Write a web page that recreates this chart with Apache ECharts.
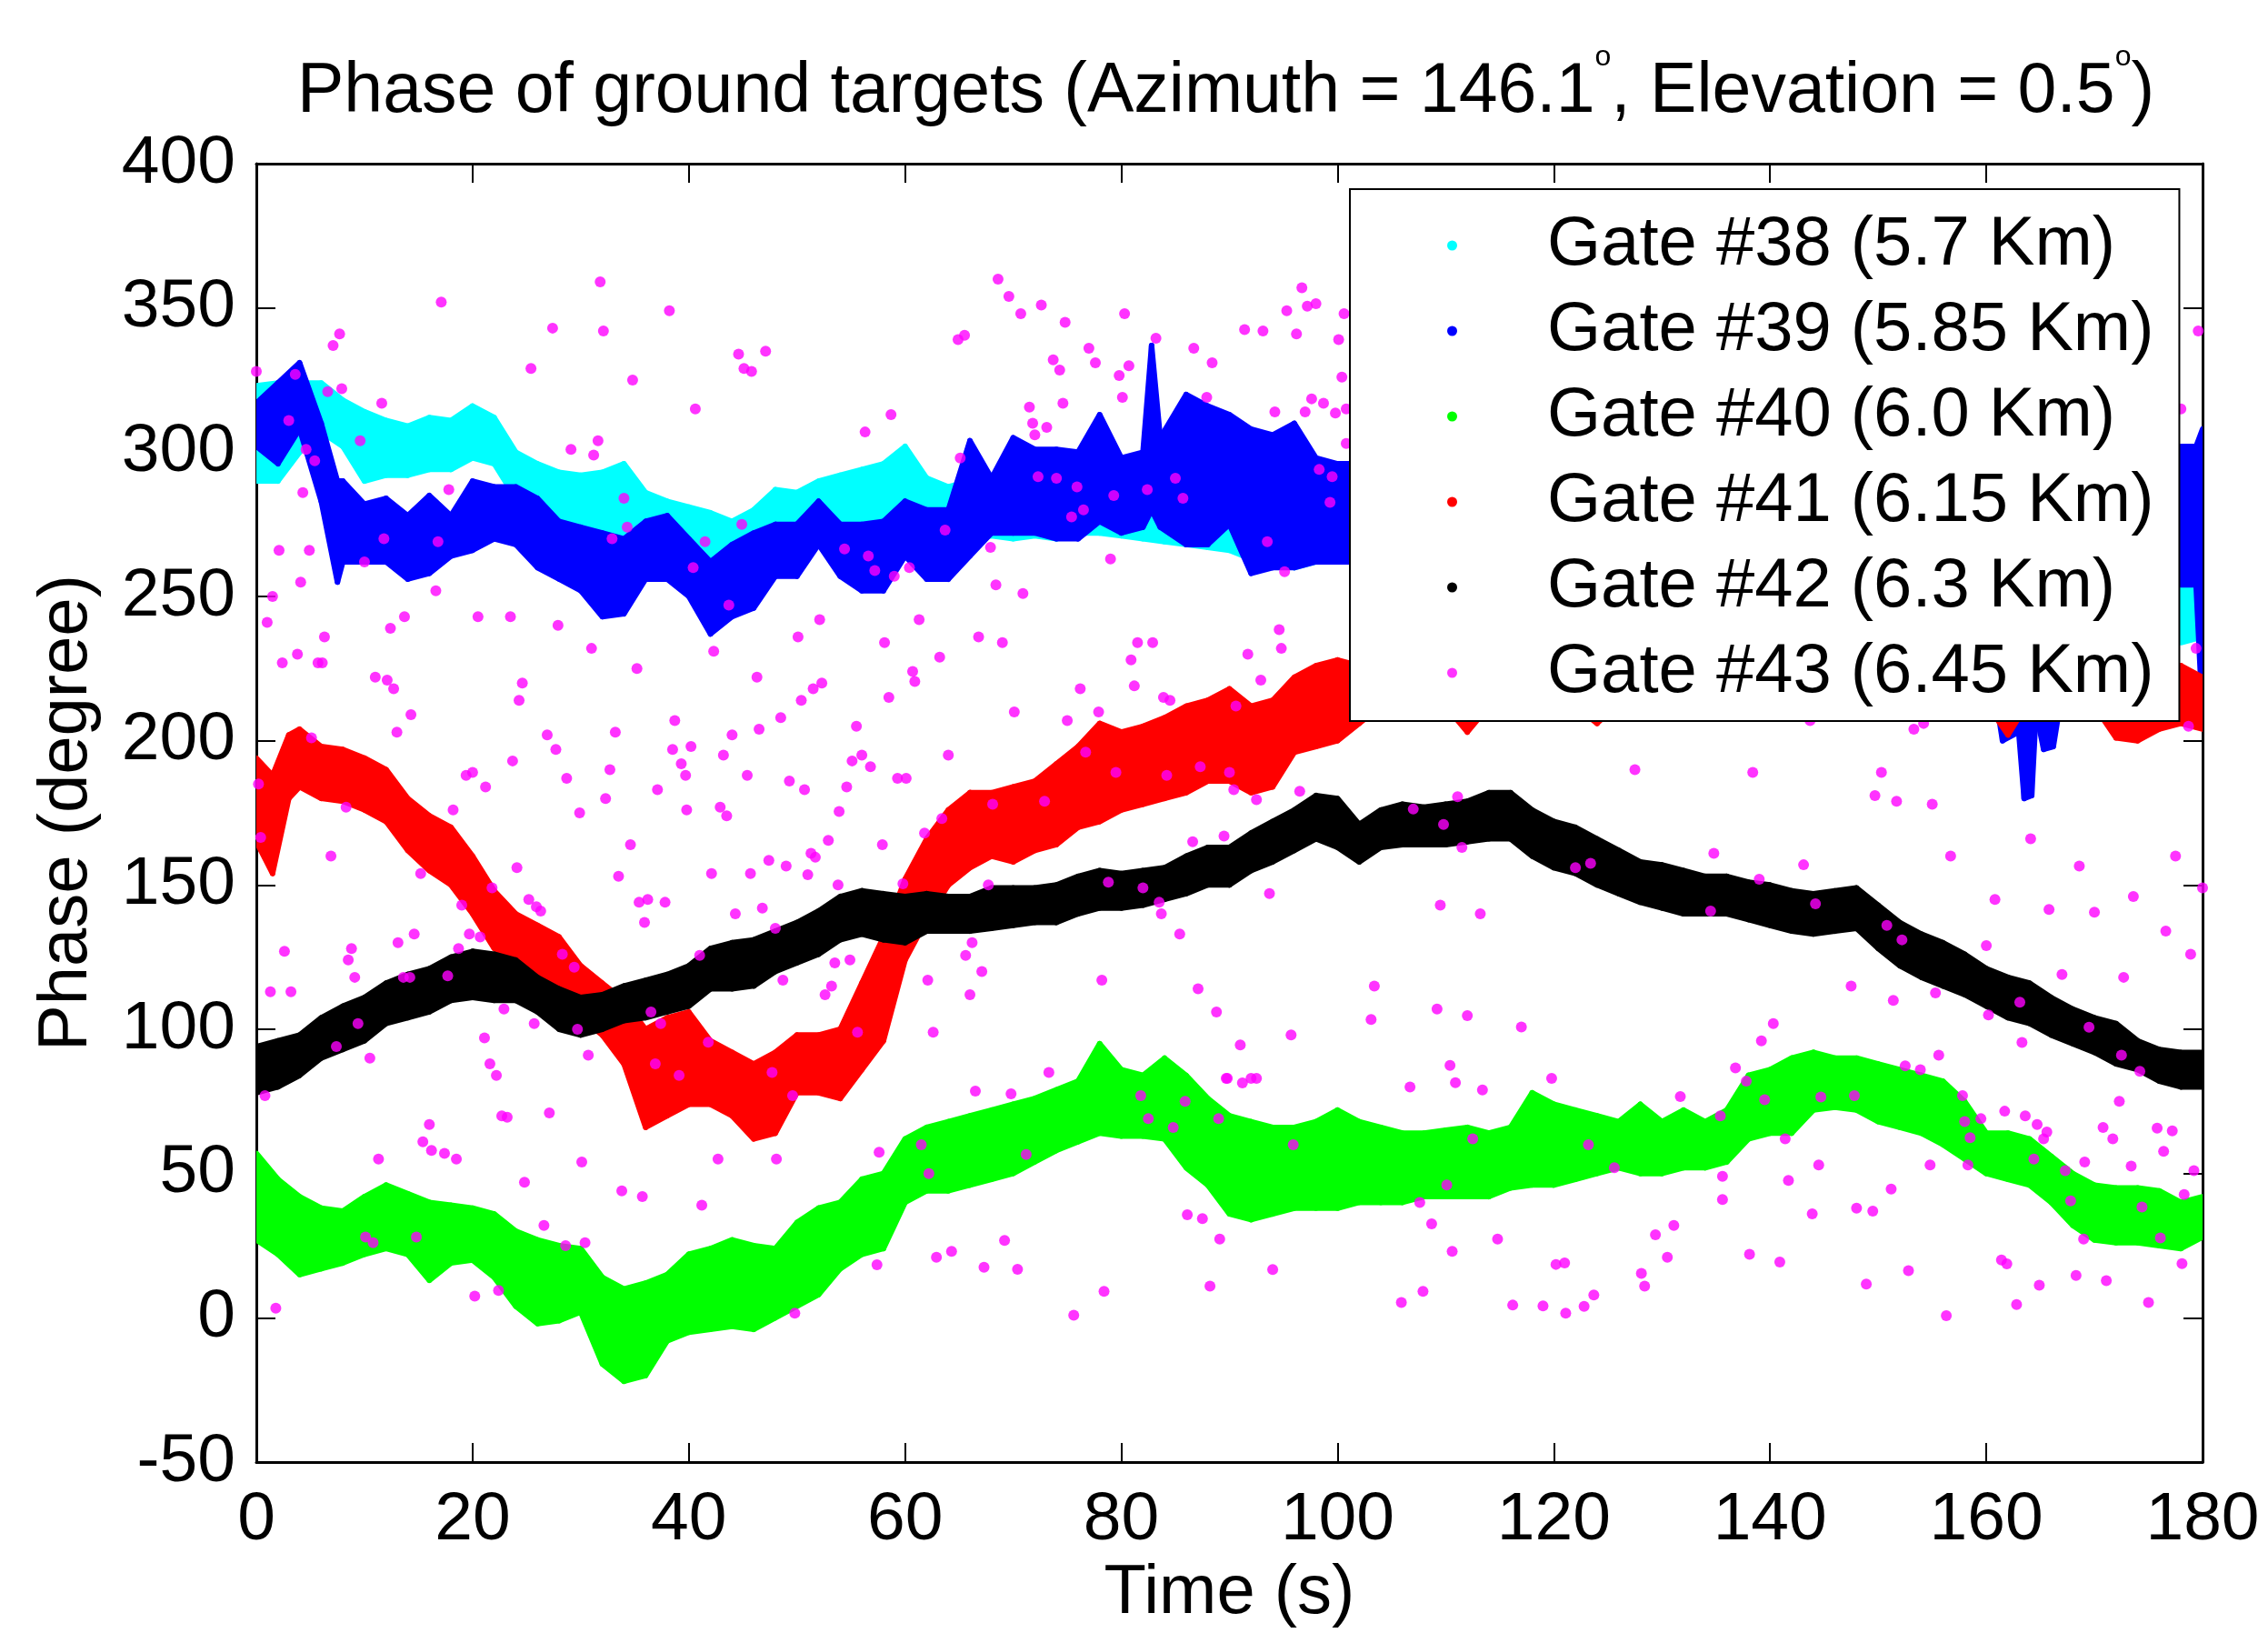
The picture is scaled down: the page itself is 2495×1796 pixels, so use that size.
<!DOCTYPE html>
<html>
<head>
<meta charset="utf-8">
<script src="https://cdn.jsdelivr.net/npm/echarts@6/dist/echarts.min.js"></script>
<style>html,body{margin:0;padding:0;background:#fff}#c{width:2495px;height:1796px}</style>
</head>
<body>
<div id="c"></div>
<script>
const FONT = '"Liberation Sans", Arial, Helvetica, sans-serif';

const gateNames = ['Gate #38 (5.7 Km)', 'Gate #39 (5.85 Km)', 'Gate #40 (6.0 Km)', 'Gate #41 (6.15 Km)', 'Gate #42 (6.3 Km)', 'Gate #43 (6.45 Km)'];
const gateColors = ['#00FFFF', '#0000FF', '#00FF00', '#FF0000', '#000000', '#FF00FF'];
const xTicks = [0, 20, 40, 60, 80, 100, 120, 140, 160, 180];
const yTicks = [-50, 0, 50, 100, 150, 200, 250, 300, 350, 400];

// Gate #38 (cyan) band: time, lower edge, upper edge (null = hidden behind legend)
const g38_t  = [0,2,4,6,8,10,12,14,16,18,20,22,24,26,28,30,32,34,36,38,40,42,44,46,48,50,52,54,56,58,60,62,64,66,68,70,72,74,76,78,80,82,84,86,88,90,92,94,96,98,100,102,140,178,180];
const g38_lo = [290,290,300,307,302,290,292,292,294,294,298,296,284,281,276,273,272,272,272,268,264,260,258,262,264,264,268,270,270,271,272,273,272,270,271,270,271,270,272,272,271,270,269,268,267,266,263,261,260,262,262,262,null,234,236];
const g38_hi = [323,324,324,324,318,314,311,309,312,311,316,312,300,296,293,292,293,296,286,283,281,279,276,280,287,286,290,292,294,296,302,291,288,290,292,292,292,292,294,298,296,292,292,292,292,290,290,288,286,286,285,285,null,256,256];

// Gate #39 (blue)
const g39_t  = [0,2,4,6,7.5,8,10,12,14,16,18,20,22,24,26,28,30,32,34,36,38,40,42,44,46,48,50,52,54,56,58,60,62,64,66,68,70,72,74,76,78,80,82,82.8,83.6,86,88,90,92,94,96,98,100,102,130,161,161.5,163,163.5,164.2,164.6,165.3,166.2,166.8,172,178,179.4,180];
const g39_lo = [302,296,308,283,255,262,262,262,256,258,264,266,270,268,260,256,252,243,244,256,256,250,237,243,246,257,257,268,257,252,252,264,256,256,264,272,272,272,270,270,276,272,274,280,274,268,268,275,258,260,260,262,262,262,null,212,200,203,180,181,210,197,198,212,null,254,254,208];
const g39_hi = [317,324,331,310,290,290,282,284,278,285,278,290,288,288,284,276,274,272,270,276,278,270,262,268,272,275,275,283,275,275,276,283,280,280,304,291,305,301,301,300,313,298,300,337,305,320,316,313,308,306,310,298,296,296,null,262,262,262,262,262,262,262,262,262,null,302,302,308];

// Gate #40 (green), every 2 s
const g40_t  = [0,2,4,6,8,10,12,14,16,18,20,22,24,26,28,30,32,34,36,38,40,42,44,46,48,50,52,54,56,58,60,62,64,66,68,70,72,74,76,78,80,82,84,86,88,90,92,94,96,98,100,102,104,106,108,110,112,114,116,118,120,122,124,126,128,130,132,134,136,138,140,142,144,146,148,150,152,154,156,158,160,162,164,166,168,170,172,174,176,178,180];
const g40_lo = [27,22,15,17,19,22,24,22,13,19,20,14,4,-2,-1,2,-16,-22,-20,-8,-5,-4,-3,-4,0,4,8,17,22,24,40,44,44,46,48,50,54,58,61,64,63,63,62,52,46,36,34,36,38,38,38,40,40,40,42,42,42,42,45,46,46,48,50,52,50,50,52,52,54,62,64,64,72,73,72,68,66,64,60,55,50,48,46,40,32,27,26,26,25,24,28];
const g40_hi = [57,48,42,38,37,42,46,43,40,39,38,36,30,27,25,24,14,10,12,15,22,24,27,25,24,33,38,40,48,50,62,66,68,70,72,74,76,79,82,95,86,84,90,84,76,70,68,66,66,68,72,68,66,64,64,65,66,64,66,78,74,72,70,68,74,68,72,68,72,84,86,90,92,90,90,88,86,84,82,75,64,64,62,56,50,46,45,45,44,40,42];

// Gate #41 (red)
const g41_t  = [0,1.5,3,4,6,8,10,12,14,16,18,20,22,24,26,28,30,32,34,36,38,40,42,44,46,48,50,52,54,56,58,60,62,64,66,68,70,72,74,76,78,80,82,84,86,88,90,92,94,96,98,100,102,104,110,112,114,122,124,126,160,162,164,170,172,174,176,178,180];
const g41_lo = [165,154,180,184,180,179,176,172,162,155,150,140,128,124,120,114,104,98,88,66,70,74,74,70,62,64,78,78,76,86,96,124,138,150,156,160,158,162,164,170,172,176,178,180,182,186,186,182,184,196,198,200,206,212,212,203,212,212,206,213,213,202,214,212,201,200,204,206,204];
const g41_hi = [194,188,202,204,198,197,194,190,180,174,170,160,148,140,136,132,122,116,110,100,104,106,96,92,88,92,98,98,100,116,132,152,166,176,182,182,184,186,192,198,206,203,205,208,212,214,218,212,214,222,226,228,226,230,232,228,232,232,230,232,232,228,232,230,226,224,224,226,222];

// Gate #42 (black), every 2 s
const g42_t  = g40_t;
const g42_lo = [78,80,84,90,93,96,102,104,106,110,111,110,110,106,100,98,100,103,104,106,108,114,114,115,120,123,126,131,133,131,130,134,134,134,135,136,137,137,140,142,142,143,145,147,150,150,155,158,162,166,163,158,163,164,164,164,165,166,166,160,156,154,150,147,144,142,140,140,140,138,136,134,133,134,135,128,122,118,115,112,108,104,102,98,95,92,88,86,82,80,80];
const g42_hi = [94,96,98,104,108,111,116,119,121,125,127,126,124,118,114,111,112,115,117,119,122,128,130,131,134,137,141,146,148,147,146,147,146,146,149,149,149,150,153,155,154,155,156,160,163,163,168,172,176,181,180,171,176,178,177,178,179,182,182,176,172,170,166,162,158,157,155,153,153,151,150,148,147,148,149,143,137,133,130,126,121,118,116,111,107,104,102,96,93,92,92];

// Gate #43 (magenta) scattered samples: [time, phase]
const g43_pts = [
[0,328],[7.1,337],[7.7,341],[17.1,352],[27.4,343],[31.8,359],[32.1,342],[38.2,349],[25.4,329],[34.8,325],[44.6,334],[45.1,329],[45.8,328],[3.6,327],[6.6,321],[7.9,322],[11.6,317],[40.6,315],[3.0,311],[4.6,301],[5.4,297],[9.6,304],[29.1,301],[31.6,304],[31.2,299],[17.8,287],[4.3,286],[34.0,284],[34.3,274],[11.8,270],[16.8,269],[32.9,270],[41.5,269],[44.9,275],[40.4,260],[2.1,266],[4.9,266],[10,262],[4.1,255],[16.6,252],[1.5,250],[1.0,241],[13.7,243],[12.4,239],[20.5,243],[23.5,243],[27.9,240],[43.7,247],[42.3,231],[6.3,236],[3.8,230],[2.4,227],[5.7,227],[6.1,227],[31.0,232],[35.2,225],[11.0,222],[12.1,221],[12.7,218],[24.6,220],[24.3,214],[14.3,209],[13.0,203],[5.1,201],[26.9,202],[27.7,197],[33.2,203],[38.7,207],[38.5,197],[40.2,198],[39.3,192],[39.7,188],[44.0,202],[43.2,195],[45.4,188],[23.7,193],[19.4,188],[20.0,189],[21.2,184],[28.7,187],[32.7,190],[37.1,183],[32.3,180],[39.8,176],[42.9,177],[18.2,176],[8.3,177],[0.2,185],[29.9,175],
[0.4,166.5],[6.9,160],[43.5,174],[34.6,164],[24.1,156],[33.5,153],[42.1,154],[45.7,154],[15.2,154],[21.8,149],[25.2,145],[25.9,142.5],[26.3,141],[35.4,144],[36.2,145],[37.8,144],[35.9,137],[44.3,140],[19.0,143],[19.7,133],[20.7,132],[14.6,133],[13.1,130],[8.8,128],[2.6,127],[8.5,124],[9.1,118],[13.6,118],[14.2,118],[17.7,118.5],[18.7,128],[28.3,126],[29.4,121.5],[41.0,125.6],[1.3,113],[3.2,113],[36.5,106],[22.9,107],[9.4,102],[25.7,102],[29.7,100],[37.4,102],[7.4,94],[10.5,90],[21.1,97],[30.7,91],[41.8,95.5],[0.8,77],[21.6,88],[22.2,84],[36.9,88],[39.1,84],[22.7,70],[23.2,69.5],[27.1,71],[16,67],[15.4,61],[16.2,58],[17.4,57],[18.5,55],[11.3,55],[30.1,54],[42.7,55],[24.8,47],[33.8,44],[35.7,42],[41.2,39],[26.6,32],[10.1,28],[10.8,26],[14.8,28],[28.6,25],[30.4,26],[20.2,7.5],[22.4,9.5],[1.8,3.3],
[68.6,360],[69.6,354],[70.7,348],[72.6,351],[74.8,345],[80.3,348],[83.2,339.5],[86.7,336],[88.4,331],[87.9,319],[47.1,335],[64.9,339],[65.5,340.5],[73.7,332],[74.3,328.5],[77.0,336],[77.6,331],[79.8,326.6],[80.7,330],[80.1,319],[58.7,313],[56.3,307],[71.5,315.6],[71.8,310],[72.0,306],[73.1,308.6],[74.6,317],[65.1,298],[72.3,291.5],[74.0,291],[75.9,288],[85.0,291],[82.4,287],[79.3,285],[85.7,284],[76.5,280],[75.4,277.6],[63.7,273],[54.4,266.5],[56.6,264],[57.2,259],[59.0,257],[60.4,260],[67.9,267],[79.0,263],[68.4,254],[70.9,251],[52.1,242],[61.3,242],[50.1,236],[58.1,234],[66.8,236],[69,234],[63.2,229],[81.5,234],[82.9,234],[80.9,228],[46.3,222],[51.5,218],[52.3,220],[50.4,214],[60.7,224],[60.9,220.5],[81.2,219],[58.5,215],[76.2,218],[77.9,210],[83.9,215],[84.5,214],[70.1,210],[75.0,207],[48.5,208],[46.5,204],[55.5,205],[55.1,193],[56.0,195],[56.8,191],[64.0,195],[49.3,186],[50.7,183],[54.6,184],[59.3,187],[60.1,187],[76.7,196],[79.5,189],[84.2,188],[87.3,191],[90.0,189],[68.1,178],[72.9,179],[53.9,175.5],
[63.4,173],[61.8,168],[57.9,164],[52.9,165.5],[47.4,158.5],[49.0,156.6],[51.3,161],[51.7,159.6],[51,153.6],[53.8,150],[59.8,150.4],[46.8,142],[48,135],[67.7,150],[78.8,151],[82,149],[83.5,144],[83.7,140],[86.6,165],[89.5,167],[85.4,133],[53.5,123],[54.9,124],[66.2,130],[65.6,125.6],[67.1,120],[48.7,117],[53.2,115],[52.6,112],[62.1,117],[66,112],[78.2,117],[87.1,114],[88.8,106],[55.6,99],[62.6,99],[47.7,85],[49.6,77],[73.3,85],[66.5,78.6],[69.8,77.6],[89.7,83],[81.8,77],[85.9,75],[82.5,69],[84.8,66],[89,69],[48.1,55],[57.6,57.4],[61.5,60],[62.2,50],[71.2,56.6],[86.1,35.7],[87.5,34.4],[89.1,27.3],[69.2,26.8],[62.9,21],[64.3,23],[57.4,18.4],[67.3,17.5],[70.4,16.8],[78.4,9.2],[88.2,11],[49.8,1.6],[75.6,0.9],
[96.7,357],[95.3,349],[97.2,350.6],[98,351.5],[91.4,342.5],[93.1,342],[96.2,341],[100.1,339],[100.6,348],[100.4,326],[94.2,314],[97,314],[97.6,318.5],[98.7,317],[99.8,313.6],[100.8,315],[100.8,303],[98.3,294],[99.5,291.5],[99.3,282.6],[93.5,269],[95.1,258.6],[94.6,238.5],[94.8,232],[91.7,230],[92.9,221],[90.6,212],[90.4,183],[92.5,179.6],[96.5,182.5],[107,176.3],[111.1,180.6],[127.5,190],
[109.8,171],[111.5,163],[122,156],[123.4,157.5],[134.8,161],[134.5,141],[93.7,147],[109.5,143],[113.2,140],[103.4,115],[103.1,103.4],[109.2,107],[112,104.7],[117,100.8],[95.7,98],[91,94.6],[89.8,83],[91.2,81.4],[92.0,83],[92.5,83],[106.7,80],[110.4,87.5],[110.9,81.5],[113.4,79],[119.8,83],[131.7,76.7],[95.9,60],[112.5,62],[110.1,46],[107.6,40],[123.2,60],[125.6,52],[135.4,70],[135.6,49],[135.6,41],[108.7,32.6],[114.8,27.3],[110.6,23],[129.4,28.8],[131.1,32],[130.5,21],[120.2,18.5],[121,19],[128.1,15.4],[128.4,11],[94,16.7],[105.9,5.3],[107.9,9.2],[116.2,4.4],[119,4.1],[121.1,1.6],[122.8,4],[123.7,7.9],
[179.6,342],[178,315],[179.4,232],[178.7,205],[143.7,207],[153.3,204],[154.2,206],[138.4,189],[150.3,189],[149.7,181],[151.7,179],[155,178],[150,209],
[164.1,166],[143.1,157],[156.7,160],[168.6,156.6],[177.5,160],[180,149],[139,152],[160.8,145],[165.8,141.5],[170,140.6],[173.6,146],[176.6,134],[144.2,143.5],[150.8,136],[152.2,131],[160,129],[178.9,126],[167,119],[172.7,118],[147.5,115],[151.4,110],[155.3,112.6],[160.2,105],[163.1,109.4],[169.5,100.7],[163.3,95.4],[140.3,102],[139.2,96],[172.5,91],[174.2,85.4],[155.6,91],[152.5,87.3],[153.9,86],[136.8,86.6],[137.8,82],[139.5,75.6],[144.7,76.5],[147.8,77],[172.3,75],[157.8,77],[141.4,62],[144.5,53],[154.8,53],[158,68],[159.5,69],[158.5,62.4],[161.7,71.6],[163.6,70],[164.7,67],[165.6,64.4],[165.3,62],[170.8,66],[171.7,62],[175.8,65.7],[177.2,64.8],[176.4,57.7],[164.4,55],[158.3,53],[169.1,54],[173.4,52.6],[179.2,51],[167.3,51],[141.7,47.6],[151.2,44.6],[167.8,40.5],[174.4,38.4],[143.9,36],[148,38],[149.5,37],[178.3,42.7],[169,27.3],[176.1,27.7],[138.1,22],[140.9,19.3],[161.4,20],[161.9,18.7],[178.1,18.8],[152.8,16.3],[148.9,11.7],[164.9,11.3],[168.3,14.7],[171.1,12.9],[162.8,4.6],[156.3,0.7],[175,5.3]
];

function band(name, color, T, LO, HI) {
  return {
    name: name,
    type: 'custom',
    coordinateSystem: 'cartesian2d',
    xAxisIndex: 0, yAxisIndex: 0,
    itemStyle: { color: color },
    clip: true,
    data: T.map(function (t, i) { return [t, LO[i], HI[i]]; }),
    encode: { x: 0, y: [1, 2] },
    renderItem: function (params, api) {
      const i = params.dataIndex;
      if (i >= T.length - 1 || LO[i] == null || LO[i + 1] == null) return null;
      const pts = [
        api.coord([T[i], HI[i]]),
        api.coord([T[i + 1], HI[i + 1]]),
        api.coord([T[i + 1], LO[i + 1]]),
        api.coord([T[i], LO[i]])
      ];
      return {
        type: 'polygon',
        shape: { points: pts },
        style: { fill: color, stroke: color, lineWidth: 6, lineJoin: 'round' }
      };
    }
  };
}

const axisLineStyle = { color: '#000', width: 3 };
const tickStyle = { show: true, inside: true, length: 21, lineStyle: { color: '#000', width: 2 } };

const chart = echarts.init(document.getElementById('c'), null, { renderer: 'canvas', width: 2495, height: 1796 });
chart.setOption({
  animation: false,
  backgroundColor: '#ffffff',
  title: {
    text: 'Phase of ground targets (Azimuth = 146.1{s|o}, Elevation = 0.5{s|o})',
    left: 322,
    top: 42,
    textStyle: {
      fontFamily: FONT, fontSize: 77, fontWeight: 'normal', color: '#000', lineHeight: 110,
      rich: { s: { fontFamily: FONT, fontSize: 32, lineHeight: 20, verticalAlign: 'top', color: '#000' } }
    }
  },
  grid: { left: 282, right: 72, top: 180, bottom: 184, containLabel: false },
  legend: {
    orient: 'vertical',
    left: 1485, top: 208,
    padding: [24, 28, 15, 107],
    itemGap: 18,
    itemWidth: 11, itemHeight: 11,
    icon: 'circle',
    selectedMode: false,
    backgroundColor: '#ffffff',
    borderColor: '#000', borderWidth: 2,
    data: gateNames,
    textStyle: { fontFamily: FONT, fontSize: 76, lineHeight: 75, color: '#000', padding: [0, 0, 0, 94] }
  },
  xAxis: [
    {
      type: 'value', position: 'bottom', min: 0, max: 180, interval: 20,
      name: 'Time (s)', nameLocation: 'middle', nameGap: 107,
      nameTextStyle: { fontFamily: FONT, fontSize: 76, color: '#000' },
      axisLine: { show: true, onZero: false, lineStyle: axisLineStyle },
      axisTick: tickStyle,
      axisLabel: { fontFamily: FONT, fontSize: 75, color: '#000', margin: 27,
        formatter: function (v) { return xTicks.indexOf(v) >= 0 ? String(v) : ''; } },
      splitLine: { show: false }
    },
    {
      type: 'value', position: 'top', min: 0, max: 180, interval: 20,
      axisLine: { show: true, onZero: false, lineStyle: axisLineStyle },
      axisTick: tickStyle, axisLabel: { show: false }, splitLine: { show: false }
    }
  ],
  yAxis: [
    {
      type: 'value', position: 'left', min: -50, max: 400, interval: 50,
      name: 'Phase (degree)', nameLocation: 'middle', nameGap: 170,
      nameTextStyle: { fontFamily: FONT, fontSize: 76, color: '#000' },
      axisLine: { show: true, onZero: false, lineStyle: axisLineStyle },
      axisTick: tickStyle,
      axisLabel: { fontFamily: FONT, fontSize: 75, color: '#000', margin: 23,
        formatter: function (v) { return yTicks.indexOf(v) >= 0 ? String(v) : ''; } },
      splitLine: { show: false }
    },
    {
      type: 'value', position: 'right', min: -50, max: 400, interval: 50,
      axisLine: { show: true, onZero: false, lineStyle: axisLineStyle },
      axisTick: tickStyle, axisLabel: { show: false }, splitLine: { show: false }
    }
  ],
  series: [
    band(gateNames[0], gateColors[0], g38_t, g38_lo, g38_hi),
    band(gateNames[1], gateColors[1], g39_t, g39_lo, g39_hi),
    band(gateNames[2], gateColors[2], g40_t, g40_lo, g40_hi),
    band(gateNames[3], gateColors[3], g41_t, g41_lo, g41_hi),
    band(gateNames[4], gateColors[4], g42_t, g42_lo, g42_hi),
    {
      name: gateNames[5], type: 'scatter', xAxisIndex: 0, yAxisIndex: 0,
      symbol: 'circle', symbolSize: 12,
      itemStyle: { color: gateColors[5] },
      data: g43_pts
    }
  ]
});
</script>
</body>
</html>
